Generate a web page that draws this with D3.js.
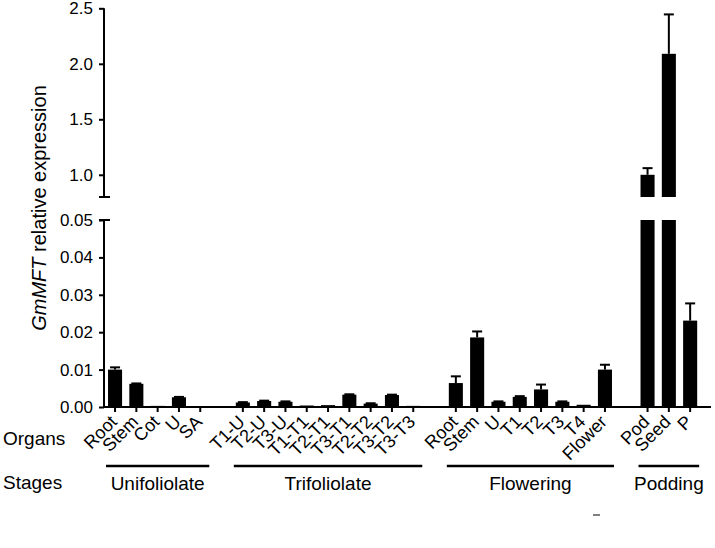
<!DOCTYPE html>
<html><head><meta charset="utf-8">
<script src="https://cdn.jsdelivr.net/npm/d3@7"></script>
<style>
body{margin:0;background:#fff;}
text{font-family:"Liberation Sans",Arial,sans-serif;fill:#000;}
</style></head>
<body><svg id="c" width="715" height="548"></svg>
<script>
const stages = ["Unifoliolate","Trifoliolate","Flowering","Podding"];
const organsUni = ["Root","Stem","Cot","U","SA"];
const valuesUni = [0.0100,0.0062,0.0003,0.0026,0.0002];
const errorsUni = [0.0006,0.0001,0.0000,0.0001,0.0000];
const organsTri = ["T1-U","T2-U","T3-U","T1-T1","T2-T1","T3-T1","T2-T2","T3-T2","T3-T3"];
const valuesTri = [0.0012,0.0016,0.0014,0.0004,0.0005,0.0033,0.0009,0.0032,0.0003];
const errorsTri = [0.0001,0.0001,0.0001,0.0000,0.0000,0.0001,0.0001,0.0001,0.0000];
const organsFlo = ["Root","Stem","U","T1","T2","T3","T4","Flower"];
const valuesFlo = [0.0064,0.0186,0.0014,0.0027,0.0047,0.0014,0.0006,0.0100];
const errorsFlo = [0.0018,0.0016,0.0001,0.0002,0.0013,0.0001,0.0000,0.0013];
const organsPod = ["Pod","Seed","P"];
const valuesPod = [1.00,2.09,0.0231];
const errorsPod = [0.06,0.355,0.0046];
const lowTicks = [0,0.01,0.02,0.03,0.04,0.05];
const highTicks = [1.0,1.5,2.0,2.5];

const organLists = [organsUni,organsTri,organsFlo,organsPod];
const valueLists = [valuesUni,valuesTri,valuesFlo,valuesPod];
const errorLists = [errorsUni,errorsTri,errorsFlo,errorsPod];

const data = [];
const keys = [];
stages.forEach((s,gi)=>{
  if(gi>0) keys.push("gap"+gi);
  organLists[gi].forEach((o,i)=>{
    const k = s+":"+o;
    keys.push(k);
    data.push({key:k,organ:o,stage:s,v:valueLists[gi][i],e:errorLists[gi][i]});
  });
});

const svg = d3.select("#c");
const x = d3.scaleBand().domain(keys).range([104.4,700.8]).paddingInner(0.34).paddingOuter(0.17);
const yLow = d3.scaleLinear().domain([0,0.05]).range([407,220]);
const yHigh = d3.scaleLinear().domain([0.8,2.5]).range([197,8.3]);
const axisX = 104;
const bw = x.bandwidth();

// bars
data.forEach(d=>{
  const x0 = x(d.key);
  if(d.v<=0.05){
    svg.append("rect").attr("x",x0).attr("width",bw).attr("y",yLow(d.v)).attr("height",yLow(0)-yLow(d.v)).attr("fill","#000");
  } else {
    svg.append("rect").attr("x",x0).attr("width",bw).attr("y",yLow(0.05)).attr("height",yLow(0)-yLow(0.05)).attr("fill","#000");
    svg.append("rect").attr("x",x0).attr("width",bw).attr("y",yHigh(d.v)).attr("height",yHigh(0.8)-yHigh(d.v)).attr("fill","#000");
  }
  if(d.e>0){
    const sc = d.v<=0.05 ? yLow : yHigh;
    const cx = x0+bw/2;
    svg.append("line").attr("x1",cx).attr("x2",cx).attr("y1",sc(d.v)).attr("y2",sc(d.v+d.e)).attr("stroke","#000").attr("stroke-width",2);
    svg.append("line").attr("x1",cx-5).attr("x2",cx+5).attr("y1",sc(d.v+d.e)).attr("y2",sc(d.v+d.e)).attr("stroke","#000").attr("stroke-width",2);
  }
});

// y axes
function styleAxis(g){
  g.selectAll("path,line").attr("stroke","#000").attr("stroke-width",2);
  g.selectAll("text").attr("font-size",17).attr("font-family","Liberation Sans, Arial, sans-serif");
}
const gl = svg.append("g").attr("transform",`translate(${axisX},0)`)
  .call(d3.axisLeft(yLow).tickValues(lowTicks).tickFormat(d3.format(".2f")).tickSize(5).tickPadding(6).tickSizeOuter(0));
styleAxis(gl);
gl.select(".domain").remove();
gl.append("line").attr("x1",0).attr("x2",0).attr("y1",yLow(0.05)).attr("y2",yLow(0)).attr("stroke","#000").attr("stroke-width",2);
gl.append("line").attr("x1",-5).attr("x2",6).attr("y1",yLow(0.05)).attr("y2",yLow(0.05)).attr("stroke","#000").attr("stroke-width",2);

const gh = svg.append("g").attr("transform",`translate(${axisX},0)`)
  .call(d3.axisLeft(yHigh).tickValues(highTicks).tickFormat(d3.format(".1f")).tickSize(5).tickPadding(6).tickSizeOuter(0));
styleAxis(gh);
gh.select(".domain").remove();
gh.append("line").attr("x1",0).attr("x2",0).attr("y1",yHigh(2.5)).attr("y2",yHigh(0.8)).attr("stroke","#000").attr("stroke-width",2);
gh.append("line").attr("x1",-5).attr("x2",6).attr("y1",yHigh(0.8)).attr("y2",yHigh(0.8)).attr("stroke","#000").attr("stroke-width",2);

// x axis
const gx = svg.append("g").attr("transform",`translate(0,${yLow(0)})`)
  .call(d3.axisBottom(x).tickValues(data.map(d=>d.key)).tickFormat(k=>k.split(":")[1]).tickSize(5).tickSizeOuter(0));
gx.select(".domain").remove();
gx.selectAll("line").attr("stroke","#000").attr("stroke-width",2);
gx.append("line").attr("x1",axisX).attr("x2",711).attr("y1",0).attr("y2",0).attr("stroke","#000").attr("stroke-width",2);
gx.selectAll(".tick text").attr("font-size",18).attr("font-family","Liberation Sans, Arial, sans-serif")
  .attr("text-anchor","end").attr("dy",0).attr("y",0)
  .attr("transform","translate(3,16) rotate(-45)");

// y title
const yt = svg.append("text").attr("transform","translate(46,208) rotate(-90)").attr("text-anchor","middle").attr("font-size",20);
yt.append("tspan").attr("font-style","italic").text("GmMFT");
yt.append("tspan").text(" relative expression");

// row labels
svg.append("text").attr("x",3).attr("y",445).attr("font-size",19).text("Organs");
svg.append("text").attr("x",3).attr("y",489).attr("font-size",19).text("Stages");

// stage lines & labels
stages.forEach((s,gi)=>{
  const ks = data.filter(d=>d.stage===s).map(d=>d.key);
  const x1 = x(ks[0]) - 2;
  const x2 = x(ks[ks.length-1]) + bw + 2;
  svg.append("line").attr("x1",x1).attr("x2",x2).attr("y1",466).attr("y2",466).attr("stroke","#000").attr("stroke-width",2.5);
  svg.append("text").attr("x",(x1+x2)/2).attr("y",490).attr("text-anchor","middle").attr("font-size",19).text(s);
});

svg.append("line").attr("x1",593).attr("x2",600).attr("y1",515).attr("y2",515).attr("stroke","#000").attr("stroke-width",1);
</script></body></html>
